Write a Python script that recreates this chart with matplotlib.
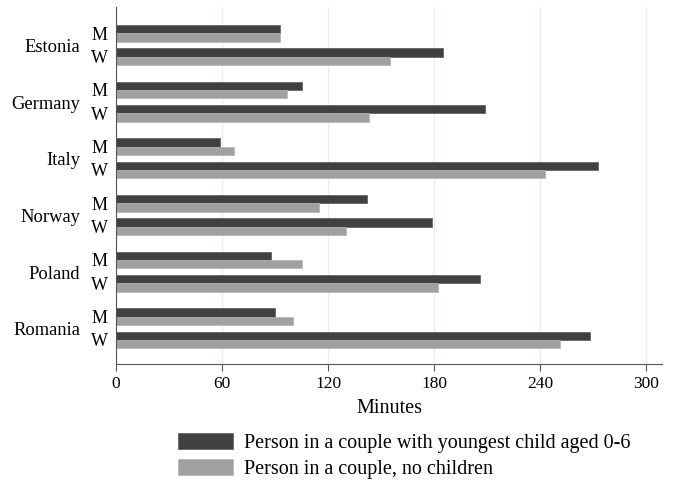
import matplotlib.pyplot as plt
from matplotlib.patches import Patch

# minutes per day, men (M) and women (W), by household type
countries = ['Estonia', 'Germany', 'Italy', 'Norway', 'Poland', 'Romania']
with_child_m = [93, 105, 59, 142, 88, 90]
with_child_w = [185, 209, 273, 179, 206, 268]
no_child_m = [93, 97, 67, 115, 105, 100]
no_child_w = [155, 143, 243, 130, 182, 251]

dark = '#404040'
light = '#a0a0a0'

plt.rcParams['font.family'] = ['Liberation Serif', 'DejaVu Serif']
plt.rcParams['font.size'] = 12.5

fig = plt.figure(figsize=(6.75, 4.83), dpi=100)
ax = fig.add_axes([116 / 675, 119 / 483, 546 / 675, 357 / 483])

step = 6.8
h = 1.0
mw_ticks = []
mw_labels = []
for i, c in enumerate(countries):
    top = 2.16 + i * step
    ax.barh(top + 0.5, with_child_m[i], height=h, color=dark, edgecolor='#5a5a5a', linewidth=0.5)
    ax.barh(top + 1.5, no_child_m[i], height=h, color=light, edgecolor='#b5b5b5', linewidth=0.5)
    ax.barh(top + 3.3, with_child_w[i], height=h, color=dark, edgecolor='#5a5a5a', linewidth=0.5)
    ax.barh(top + 4.3, no_child_w[i], height=h, color=light, edgecolor='#b5b5b5', linewidth=0.5)
    mw_ticks += [top + 1.0, top + 3.8]
    mw_labels += ['M', 'W']
    ax.annotate(c, xy=(0, top + 2.7), xycoords=('axes fraction', 'data'),
                xytext=(-36, 0), textcoords='offset pixels',
                ha='right', va='center', fontsize=13.3)

ax.set_ylim(42.86, 0)
ax.set_xlim(0, 309)
ax.set_yticks(mw_ticks)
ax.set_yticklabels(mw_labels, fontsize=13)
ax.tick_params(axis='y', length=0, pad=6)
ax.set_xticks([0, 60, 120, 180, 240, 300])
ax.tick_params(axis='x', length=5, width=0.8, color='#555555', pad=4)
ax.set_xlabel('Minutes', labelpad=5, fontsize=14.5)

ax.grid(axis='x', color='#e6eef0', linewidth=1)
ax.set_axisbelow(True)
for s in ['top', 'right']:
    ax.spines[s].set_visible(False)
ax.spines['left'].set_color('#555555')
ax.spines['bottom'].set_color('#555555')

handles = [Patch(facecolor=dark, edgecolor='#5a5a5a', linewidth=0.5),
           Patch(facecolor=light, edgecolor='#b5b5b5', linewidth=0.5)]
fig.legend(handles, ['Person in a couple with youngest child aged 0-6',
                     'Person in a couple, no children'],
           loc='upper left', bbox_to_anchor=(170 / 675, 1 - 425 / 483),
           frameon=False, handlelength=2.75, handleheight=0.85,
           handletextpad=0.5, labelspacing=0.3, borderpad=0.4,
           borderaxespad=0, fontsize=14.5)

fig.savefig('out.png', dpi=100)
